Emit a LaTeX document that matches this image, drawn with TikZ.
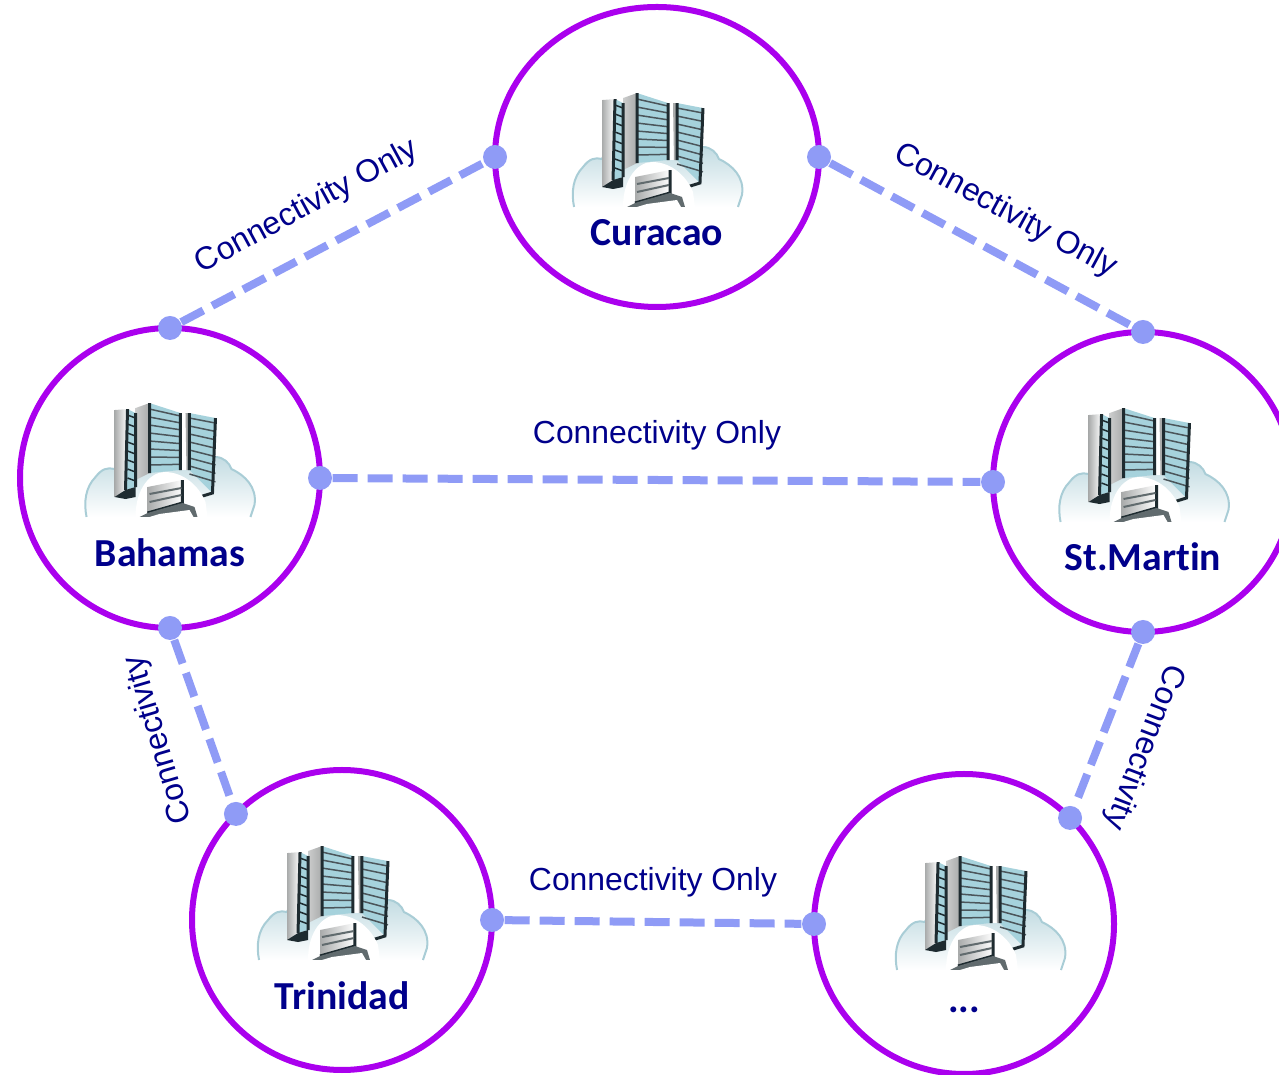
\documentclass[tikz,border=0pt]{standalone}
\usepackage{fontspec}
\setmainfont{Liberation Sans}
\newfontfamily\sitefont[Ligatures=CommonOff]{Carlito}
\usepackage{tikz}
\usetikzlibrary{shapes.geometric}
\definecolor{sitering}{HTML}{AA00EE}
\definecolor{linkblue}{HTML}{8F9BF6}
\definecolor{labelblue}{HTML}{00008B}
\definecolor{towerglass}{HTML}{A6D2DC}
\definecolor{towerdark}{HTML}{1E2B30}
\definecolor{towergrey}{HTML}{A9ABAB}
\definecolor{cloudedge}{HTML}{A9CDD6}
\tikzset{
  site/.style={draw=sitering,line width=.06cm,ellipse,inner sep=0,outer sep=0,minimum width=3cm,minimum height=3cm},
  port/.style={circle,fill=linkblue,inner sep=0,minimum size=.24cm},
  link/.style={draw=linkblue,line width=.08cm,dash pattern=on .25cm off .1cm},
  linklabel/.style={text=labelblue,font=\fontsize{9.07}{11}\selectfont,inner sep=0},
  sitename/.style={text=labelblue,font=\sitefont\bfseries\fontsize{11.3}{14}\selectfont,inner sep=0},
  datacenter/.pic={
    \begin{scope}[scale=.01]
    % cloud
    \shade[top color=cloudedge!70,bottom color=white,draw=cloudedge,line width=.02cm] (-83,0) .. controls (-86,15) and (-84,30) .. (-74,40) .. controls (-68,48) and (-62,50) .. (-55,48) -- (-50,60) -- (46,60) .. controls (54,60) and (60,54) .. (62,48) .. controls (75,42) and (88,30) .. (85,12) -- (81,0);
    % towers
    \shade[left color=towergrey,right color=white] (-55,107) -- (-42,108) -- (-44,27) -- (-55,20) -- cycle;
    \fill[towerglass] (-42,108) -- (-34,104) -- (-34,30) -- (-44,27) -- cycle;
    \shade[left color=towergrey!60,right color=towergrey] (-34,109) -- (-20,114) -- (-20,44) -- (-34,37) -- cycle;
    \fill[towerglass] (-20,114) -- (11,104) -- (11,47) -- (-20,44) -- cycle;
    \fill[white] (11,104) -- (20,104) -- (20,47) -- (11,47) -- cycle;
    \fill[towergrey] (16,104) -- (20,104) -- (20,47) -- (17,47) -- cycle;
    \fill[towerglass] (20,104) -- (46,99) -- (43,24) -- (20,47) -- cycle;
    \foreach \f in {0,...,7}{
      \draw[towerdark!80,line width=.015cm] (-20,{108-8*\f}) -- (11,{101-6.9*\f});
      \draw[towerdark!80,line width=.015cm] (20,{99-8*\f}) -- (46,{94-8.4*\f});
      \draw[towerdark,line width=.015cm] (-42,{102-9*\f}) -- (-34,{99-9*\f});
    }
    \draw[towerdark,line width=.03cm] (-42,108) -- (-44,27) (-34,104) -- (-34,30) (-20,114) -- (-20,44) (11,104) -- (11,47) (20,104) -- (20,47) (46,99) -- (43,24) -- (30,20);
    \fill[towerdark] (-55,20) -- (-44,27) -- (-34,30) -- (-34,20) -- (-44,18) -- cycle;
    % dome and low block
    \fill[white] (-34,0) .. controls (-34,30) and (-18,45) .. (-5,45) .. controls (15,45) and (30,30) .. (36,15) -- (38,0) -- cycle;
    \shade[left color=towergrey,right color=white] (-22,30) -- (13,37) -- (13,14) -- (-22,4) -- cycle;
    \draw[towerdark,line width=.03cm] (-22,4) -- (13,14) -- (13,37);
    \draw[towerdark!70,line width=.02cm] (-20,23) -- (12,29) (-20,15) -- (12,22);
    \fill[towerdark!70] (-30,0) -- (-22,4) -- (13,14) -- (25,10) -- (28,0) -- cycle;
    \fill[white] (-20,0) -- (-10,3) -- (20,7) -- (24,0) -- cycle;
    \end{scope}
  }
}
\begin{document}
\begin{tikzpicture}
\useasboundingbox (0,0) rectangle (12.79,10.74);
% sites
\node[site,minimum width=3.24cm] (curacao) at (6.57,9.17) {};
\node[site] (bahamas) at (1.70,5.96) {};
\node[site] (stmartin) at (11.43,5.92) {};
\node[site] (trinidad) at (3.42,1.54) {};
\node[site] (other) at (9.64,1.50) {};
\pic at (6.57,8.67) {datacenter};
\pic at (1.695,5.57) {datacenter};
\pic at (11.435,5.52) {datacenter};
\pic at (3.42,1.14) {datacenter};
\pic at (9.80,1.04) {datacenter};
\node[sitename] (curacaoname) at (6.57,8.41) {Curacao};
\node[sitename] (bahamasname) at (1.70,5.21) {Bahamas};
\node[sitename] (stmartinname) at (11.43,5.17) {St.Martin};
\node[sitename] (trinidadname) at (3.42,.78) {Trinidad};
\node[sitename] (othername) at (9.64,.64) {...};
% ports
\node[port] (cw) at (curacao.west) {};
\node[port] (ce) at (curacao.east) {};
\node[port] (bn) at (bahamas.north) {};
\node[port] (be) at (bahamas.east) {};
\node[port] (bs) at (bahamas.south) {};
\node[port] (sn) at (stmartin.north) {};
\node[port] (sw) at (stmartin.west) {};
\node[port] (ss) at (stmartin.south) {};
\node[port] (tn) at (trinidad.135) {};
\node[port] (te) at (trinidad.east) {};
\node[port] (ow) at (other.west) {};
\node[port] (on) at (other.45) {};
% links
\draw[link] (bn) -- (cw);
\draw[link] (ce) -- (sn);
\draw[link] (be) -- (sw);
\draw[link] (bs) -- (tn);
\draw[link] (ss) -- (on);
\draw[link] (te) -- (ow);
\node[linklabel,rotate=28.5] (l1) at (3.07,8.67) {Connectivity Only};
\node[linklabel,rotate=-28.5] (l2) at (10.05,8.63) {Connectivity Only};
\node[linklabel] (l3) at (6.57,6.39) {Connectivity Only};
\node[linklabel] (l4) at (6.53,1.92) {Connectivity Only};
\node[linklabel,rotate=106.5] (l5) at (1.59,3.34) {Connectivity};
\node[linklabel,rotate=-111] (l6) at (11.44,3.27) {Connectivity};
\end{tikzpicture}
\end{document}
